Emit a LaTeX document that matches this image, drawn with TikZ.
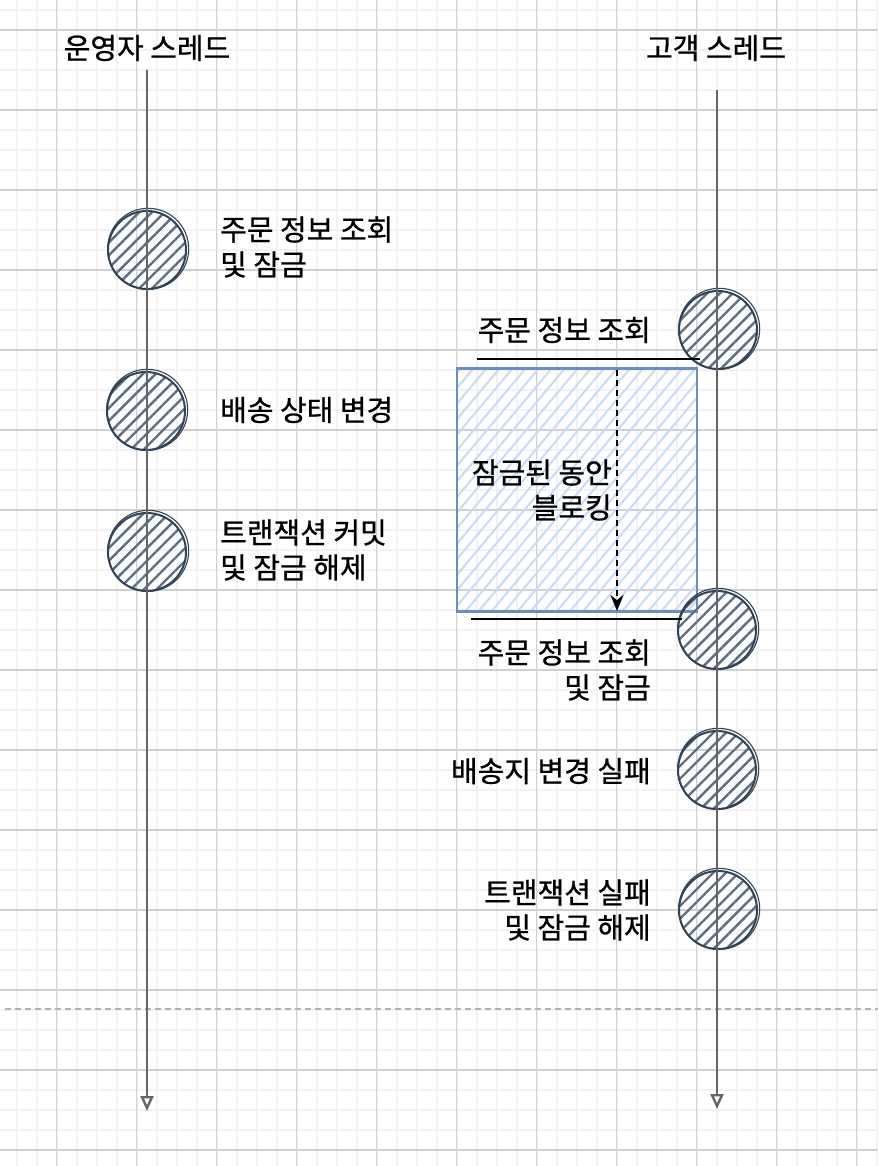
\documentclass[tikz,border=0pt]{standalone}
\usepackage{fontspec}
\setmainfont[FakeBold=0.8]{Noto Sans CJK KR}
\usetikzlibrary{arrows.meta,patterns.meta}
\definecolor{gridminor}{HTML}{F2F2F2}
\definecolor{gridmajor}{HTML}{D0D0D0}
\definecolor{thread}{HTML}{666666}
\definecolor{dotstroke}{HTML}{314354}
\definecolor{dothatch}{HTML}{5F6F82}
\definecolor{boxstroke}{HTML}{6C8EBF}
\definecolor{boxhatch}{HTML}{C8DAF6}
\definecolor{sepline}{HTML}{B3B3B3}
\begin{document}
\begin{tikzpicture}[x=1pt,y=-1pt,
  lbl/.style={font=\fontsize{29}{35}\selectfont, inner sep=0pt, text=black},
  lblL/.style={lbl, anchor=west, align=left},
  lblR/.style={lbl, anchor=east, align=right},
  dot/.style={circle, minimum size=78pt, inner sep=0pt, draw=dotstroke, line width=2pt,
    pattern={Lines[angle=45,distance=9pt,line width=2.4pt]}, pattern color=dothatch},
  dotsketch/.style={draw=dotstroke, line width=1.1pt},
  threadline/.style={draw=thread, line width=2.6pt, -{Triangle[open,length=15pt,width=13pt,line width=2.4pt]}},
  lockbox/.style={rectangle, minimum width=240pt, minimum height=243pt, inner sep=0pt,
    draw=boxstroke, line width=2.4pt,
    pattern={Lines[angle=50,distance=10pt,line width=2pt]}, pattern color=boxhatch},
  marker/.style={draw=black, line width=2pt},
  waitarrow/.style={draw=black, line width=2pt, dash pattern=on 6pt off 4pt, -{Stealth[length=16pt,width=13pt]}},
  separator/.style={draw=sepline, line width=1.6pt, dash pattern=on 6pt off 4pt}
]
\useasboundingbox (0,0) rectangle (878,1166);
\fill[white] (0,0) rectangle (878,1166);
% grid
\foreach \i in {0,...,43} {
  \draw[gridminor, line width=1.6pt] ({16.7+20*\i},0) -- ({16.7+20*\i},1166);
}
\foreach \i in {0,...,58} {
  \draw[gridminor, line width=1.6pt] (0,{10+20*\i}) -- (878,{10+20*\i});
}
\foreach \i in {0,...,10} {
  \draw[gridmajor, line width=1.3pt] ({56.7+80*\i},0) -- ({56.7+80*\i},1166);
}
\foreach \i in {0,...,14} {
  \draw[gridmajor, line width=1.3pt] (0,{30+80*\i}) -- (878,{30+80*\i});
}

% separator
\coordinate (sepL) at (5,1009);
\coordinate (sepR) at (878,1009);
\draw[separator] (sepL) -- (sepR);

% titles
\node[lbl] (t1) at (147,48) {운영자 스레드};
\node[lbl] (t2) at (716,48) {고객 스레드};

% lock box
\node[lockbox] (box) at (577,490) {};
\node[lblR] (boxtxt) at (612,490) {잠금된 동안\\블로킹};

% operator dots
\node[dot] (o1) at (147,250) {};
\node[dot] (o2) at (146,411) {};
\node[dot] (o3) at (147,552) {};
% customer dots
\node[dot] (c1) at (718,330) {};
\node[dot] (c2) at (717,630) {};
\node[dot] (c3) at (717,770) {};
\node[dot] (c4) at (718,910) {};
\foreach \n in {o1,o2,o3,c1,c2,c3,c4} {
  \draw[dotsketch] ([shift={(1.2,-1.2)}]\n.center) circle (40.5);
}

% labels
\node[lblL] (lo1) at (220,247) {주문 정보 조회\\및 잠금};
\node[lblL] (lo2) at (220,410) {배송 상태 변경};
\node[lblL] (lo3) at (220,550) {트랜잭션 커밋\\및 잠금 해제};
\node[lblR] (lc1) at (651,330) {주문 정보 조회};
\node[lblR] (lc2) at (651,670) {주문 정보 조회\\및 잠금};
\node[lblR] (lc3) at (651,771) {배송지 변경 실패};
\node[lblR] (lc4) at (651,910) {트랜잭션 실패\\및 잠금 해제};

% marker lines
\coordinate (m1a) at (477,359);
\coordinate (m1b) at (700,359);
\coordinate (m2a) at (471,619);
\coordinate (m2b) at (682,619);
\draw[marker] (m1a) -- (m1b);
\draw[marker] (m2a) -- (m2b);

% waiting arrow
\coordinate (wa) at (617,370);
\coordinate (wb) at (617,611);
\draw[waitarrow] (wa) -- (wb);

% threads
\coordinate (th1s) at (147,70);
\coordinate (th1e) at (147,1111);
\coordinate (th2s) at (717,90);
\coordinate (th2e) at (717,1109);
\draw[threadline] (th1s) -- (th1e);
\draw[threadline] (th2s) -- (th2e);
\end{tikzpicture}
\end{document}
